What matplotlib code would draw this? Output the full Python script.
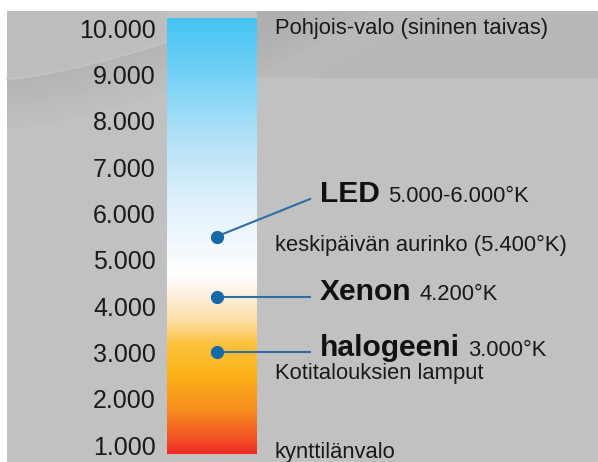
import matplotlib.pyplot as plt
import numpy as np
import matplotlib.transforms as mtransforms
from matplotlib.colors import LinearSegmentedColormap
from matplotlib.patches import Rectangle, Polygon

plt.rcParams['font.family'] = ['Liberation Sans', 'DejaVu Sans']

# colour temperature scale (Kelvin)
kelvin_ticks = [1000, 2000, 3000, 4000, 5000, 6000, 7000, 8000, 9000, 10000]
tick_labels = ['1.000', '2.000', '3.000', '4.000', '5.000',
               '6.000', '7.000', '8.000', '9.000', '10.000']
scale_min, scale_max = 806, 10216

# lamp types marked on the scale
lamps = ['LED', 'Xenon', 'halogeeni']
lamp_ranges = ['5.000-6.000°K', '4.200°K', '3.000°K']
lamp_kelvin = [5500, 4200, 3000]
lamp_label_kelvin = [6310, 4200, 3000]

# reference light sources
notes = ['Pohjois-valo (sininen taivas)', 'keskipäivän aurinko (5.400°K)',
         'Kotitalouksien lamput', 'kynttilänvalo']
note_kelvin = [9880, 5190, 2430, 720]

# colour of light along the scale
grad_kelvin = [806, 1108, 1755, 2511, 3158, 3698, 4238, 4669, 5209, 6288, 7799, 9094, 10216]
grad_colors = ['#ee2a25', '#f25325', '#f78e1e', '#fbb218', '#fcc23c', '#fde0a8', '#fdf0e0',
               '#ffffff', '#f4f9fd', '#dff0fb', '#ace0f7', '#70d0f5', '#45c4f4']

W, H = 598, 462
fig = plt.figure(figsize=(W / 100, H / 100), dpi=100)
fig.patch.set_facecolor('white')

# background panel (pixel coordinates)
bg = fig.add_axes([0, 0, 1, 1], zorder=-1)
bg.set_xlim(0, W)
bg.set_ylim(H, 0)
bg.axis('off')
bg.add_patch(Rectangle((7, 11), W - 7, H - 11, color='#c1c1c1', lw=0))
# left swoosh
t = np.linspace(0, 1, 40)
cx = 7 + 160 * t
cy = 79 - 37 * t ** 1.4
for i in range(10):
    off0, off1 = i * 5, (i + 1) * 5
    poly = np.column_stack([np.r_[cx, cx[::-1]], np.r_[cy + off0, cy[::-1] + off1]])
    bg.add_patch(Polygon(poly, closed=True, color='#b4b4b4', alpha=0.9 * (1 - i / 10), lw=0))
bg.add_patch(Polygon(np.column_stack([np.r_[7, cx, 167], np.r_[11, cy, 11]]), closed=True,
                     color='#bdbdbd', lw=0))
bg.plot(cx, cy, color='#c5c5c5', lw=1.0)
# right top band
bg.add_patch(Rectangle((257, 11), W - 257, 67, color='#b8b8b8', lw=0))
for i in range(6):
    bg.add_patch(Polygon([(257, 11), (380 - i * 15, 11), (257, 72 - i * 8)], closed=True,
                         color='#acacac', alpha=0.15, lw=0))
for i in range(4):
    w = 6 + i * 8
    bg.add_patch(Polygon([(280 - w, 78), (280 + w, 78), (400 + w, 11), (400 - w, 11)],
                         closed=True, color='#bebebe', alpha=0.2, lw=0))

# the colour bar
ax = fig.add_axes([167 / W, (H - 454) / H, 90 / W, 436 / H])
norm_pos = [(k - scale_min) / (scale_max - scale_min) for k in grad_kelvin]
cmap = LinearSegmentedColormap.from_list('kelvin', list(zip(norm_pos, grad_colors)))
vals = np.linspace(scale_min, scale_max, 500).reshape(-1, 1)
ax.imshow(vals, cmap=cmap, vmin=scale_min, vmax=scale_max, origin='lower',
          extent=[0, 1, scale_min, scale_max], aspect='auto')
ax.set_xlim(0, 1)
ax.set_ylim(scale_min, scale_max)
ax.set_xticks([])
ax.set_yticks(kelvin_ticks, tick_labels, fontsize=18, color='#1a1a1a')
ax.tick_params(axis='y', length=0, pad=8)
for s in ax.spines.values():
    s.set_visible(False)

blend = mtransforms.blended_transform_factory(ax.transAxes, ax.transData)

for k, lk in zip(lamp_kelvin, lamp_label_kelvin):
    ax.plot([0.55, 1.59], [k, lk], color='#2d6ea5', lw=1.5, transform=blend, clip_on=False)
    ax.plot([0.55], [k], 'o', color='#1768a8', ms=8.5, transform=blend, clip_on=False)

renderer = fig.canvas.get_renderer()
for name, rng, lk in zip(lamps, lamp_ranges, lamp_label_kelvin):
    bold = ax.annotate(name, xy=(1.70, lk), xycoords=blend, xytext=(0, -2.4),
                       textcoords='offset points', fontsize=21.6, fontweight='bold',
                       color='#111111', va='baseline', ha='left', annotation_clip=False)
    bb = bold.get_window_extent(renderer)
    x_axes = ax.transAxes.inverted().transform((bb.x1 + 8, 0))[0]
    ax.annotate(rng, xy=(x_axes, lk), xycoords=blend, xytext=(0, -2.4),
                textcoords='offset points', fontsize=15.8, color='#1a1a1a',
                va='baseline', ha='left', annotation_clip=False)

for note, nk in zip(notes, note_kelvin):
    ax.text(1.20, nk, note, transform=blend, fontsize=15.8, color='#1a1a1a',
            va='baseline', ha='left', clip_on=False)

fig.savefig('out.png', dpi=100)
